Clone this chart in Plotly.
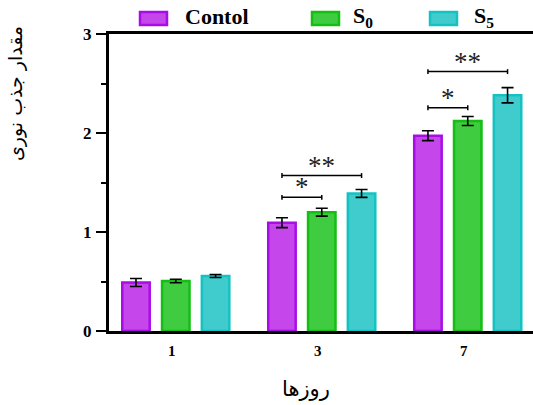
import plotly.graph_objects as go

# ---- data ----
days = ["1", "3", "7"]
series_names = ["Contol", "S<sub>0</sub>", "S<sub>5</sub>"]
control = [0.49, 1.094, 1.973]
control_err = [0.04, 0.05, 0.05]
s0 = [0.505, 1.20, 2.121]
s0_err = [0.017, 0.04, 0.045]
s5 = [0.556, 1.39, 2.381]
s5_err = [0.015, 0.04, 0.077]

# significance brackets: group index, from-series, to-series, level, label
sig_group = [1, 1, 2, 2]
sig_from = [0, 0, 0, 0]
sig_to = [1, 2, 1, 2]
sig_level = [1.35, 1.57, 2.256, 2.62]
sig_label = ["*", "**", "*", "**"]

y_title = "مقدار جذب نوری"
x_title = "روزها"

fill_colors = ["#C546EB", "#40CC40", "#40CCCC"]
line_colors = ["#A80DE6", "#12BF12", "#14C2C2"]

values = [control, s0, s5]
errors = [control_err, s0_err, s5_err]

BARGAP = 0.182
BARGROUPGAP = 0.31

fig = go.Figure()
for i in range(3):
    fig.add_trace(go.Bar(
        x=days, y=values[i], name=series_names[i],
        marker=dict(color=fill_colors[i], line=dict(color=line_colors[i], width=2.5)),
        error_y=dict(type="data", array=errors[i], color="black", thickness=1.6, width=6),
        showlegend=False,
    ))

# bar offsets within group (category units)
slot = (1 - BARGAP) / 3
offsets = [-slot, 0.0, slot]

shapes = []
annotations = []
cap = 0.025
for g, a, b, lv, lab in zip(sig_group, sig_from, sig_to, sig_level, sig_label):
    x0 = g + offsets[a]
    x1 = g + offsets[b]
    shapes.append(dict(type="line", xref="x", yref="y", x0=x0, x1=x1, y0=lv, y1=lv,
                       line=dict(color="black", width=1.5)))
    for xx in (x0, x1):
        shapes.append(dict(type="line", xref="x", yref="y", x0=xx, x1=xx, y0=lv - cap, y1=lv + cap,
                           line=dict(color="black", width=1.5)))
    annotations.append(dict(x=(x0 + x1) / 2, y=lv, xref="x", yref="y", text=lab, showarrow=False,
                            xanchor="center", yanchor="bottom", yshift=-7,
                            font=dict(family="Liberation Serif", size=27, color="#222")))

# custom legend (boxes + labels) in paper pixels
W, H = 533, 405
L, R, T, B = 109, 0, 34, 74
pw, ph = W - L - R, H - T - B
def px_x(p):
    return (p - L) / pw
def px_y(p):
    return (H - B - p) / ph

legend_box_x = [140, 312, 430]
legend_text_x = [183, 351, 472]
for i in range(3):
    shapes.append(dict(type="rect", xref="paper", yref="paper",
                       x0=px_x(legend_box_x[i]), x1=px_x(legend_box_x[i] + 27),
                       y0=px_y(25), y1=px_y(12),
                       fillcolor=fill_colors[i], line=dict(color=line_colors[i], width=2.5)))
    annotations.append(dict(x=px_x(legend_text_x[i]), y=px_y(17), xref="paper", yref="paper",
                            text=series_names[i], showarrow=False,
                            xanchor="left", yanchor="middle",
                            font=dict(family="Liberation Serif", size=22, color="black", weight="bold")))

# axis titles
annotations.append(dict(x=px_x(15), y=px_y(94), xref="paper", yref="paper", text=y_title,
                        showarrow=False, textangle=-90, xanchor="center", yanchor="middle",
                        font=dict(family="DejaVu Sans", size=19, color="black")))
annotations.append(dict(x=px_x(306), y=px_y(389), xref="paper", yref="paper", text=x_title,
                        showarrow=False, xanchor="center", yanchor="middle",
                        font=dict(family="DejaVu Sans", size=21, color="black")))

fig.update_layout(
    width=W, height=H,
    margin=dict(l=L, r=R, t=T, b=B, autoexpand=False),
    paper_bgcolor="white", plot_bgcolor="white",
    barmode="group", bargap=BARGAP, bargroupgap=BARGROUPGAP,
    shapes=shapes, annotations=annotations,
    xaxis=dict(type="category", range=[-0.4575, 2.447], showline=True, linecolor="black", linewidth=3,
               mirror=True, ticks="", showgrid=False, zeroline=False,
               tickfont=dict(family="Liberation Serif", size=15, color="black", weight="bold"),
               ticklabelstandoff=4, ticklabelshift=-4),
    yaxis=dict(range=[0, 3], tickvals=[0, 1, 2, 3], showline=True, linecolor="black", linewidth=3,
               ticks="outside", ticklen=10, tickwidth=2, tickcolor="black", showgrid=False, zeroline=False,
               tickfont=dict(family="Liberation Serif", size=17, color="black", weight="bold"),
               ticklabelstandoff=1,
               minor=dict(tickvals=[0.5, 1.5, 2.5], ticks="outside", ticklen=5, tickwidth=2, tickcolor="black")),
)

fig.write_html("out.html", config={"displayModeBar": False},
               post_script="document.body.style.margin='0';document.body.style.overflow='hidden';")
